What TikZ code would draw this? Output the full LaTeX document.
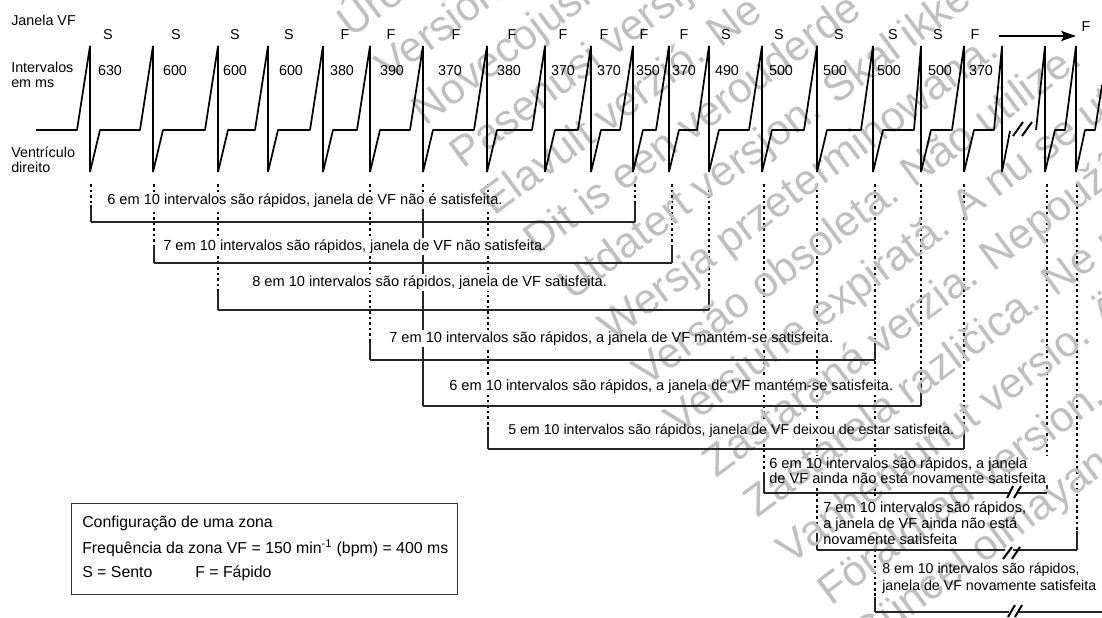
\documentclass[tikz,border=0pt]{standalone}
\usepackage{fontspec}
\setmainfont{Liberation Sans}
\usetikzlibrary{arrows.meta}
\pgfdeclarelayer{lineslayer}
\pgfdeclarelayer{wmlayer}
\pgfsetlayers{lineslayer,wmlayer,main}
\newcommand{\wmline}[3]{\node[wm] at ({0.596*#1+0.803*#2},{0.803*#1-0.596*#2}) {#3};}
\tikzset{
  lbl/.style={anchor=base west,inner sep=0pt,font=\fontsize{10.95}{11.25}\selectfont},
  lblb/.style={lbl,font=\fontsize{10.65}{11.25}\selectfont},
  lbls/.style={lbl,font=\fontsize{10.75}{11.25}\selectfont},
  lblc/.style={lbl,font=\fontsize{11.9}{13}\selectfont},
  ctr/.style={anchor=base,inner sep=0pt,font=\fontsize{10.75}{12}\selectfont},
  ecg/.style={line width=1.3pt,line join=bevel,black},
  dropdot/.style={line width=0.9pt,black,dash pattern=on 1.95pt off 2.2pt},
  dropsol/.style={line width=0.95pt,black!85},
  brk/.style={line width=0.95pt,black!85},
  slash/.style={line width=1.5pt,black},
  wm/.style={anchor=base west,inner sep=0pt,rotate=36.6,text=black!25,font=\fontsize{32}{36}\selectfont},
  mask/.style={white}
}
\begin{document}
\begin{tikzpicture}[x=0.75pt,y=-0.75pt]
\useasboundingbox (0,0) rectangle (1102,617);
% labels
\node[lbls] (lj) at (11,26) {Janela VF};
\node[lbls] (li1) at (11,73) {Intervalos};
\node[lbls] (li2) at (11,88) {em ms};
\node[lbls] (lv1) at (11,157) {Ventrículo};
\node[lbls] (lv2) at (11,172) {direito};
% window letters
\foreach \n/\x/\t in {1/108/S,2/176/S,3/235/S,4/289/S,5/345/F,6/391/F,7/456/F,8/512/F,9/563/F,10/604/F,11/644/F,12/684/F,13/726/S,14/779/S,15/839/S,16/893/S,17/938/S,18/975/F}
  \node[ctr] (w\n) at (\x,40) {\t};
\node[ctr] (w19) at (1086,32) {F};
% intervals
\foreach \n/\x/\t in {1/110/630,2/175/600,3/235/600,4/291/600,5/342/380,6/392/390,7/450/370,8/509/380,9/563/370,10/609/370,11/648/350,12/684/370,13/727/490,14/781/500,15/835/500,16/889/500,17/940/500,18/981/370}
  \node[ctr] (i\n) at (\x,75) {\t};
% ecg
\draw[ecg] (36,130) -- (77,130) -- (90,46);
\foreach \x/\n/\r in {90/153/13,153/218/13,218/268/13,268/323/13,323/370/13,370/423/13,423/487/13,487/545/13,545/591/13,591/633/13,633/669/13,669/709/12,709/762/13,762/817/13,817/873/12,873/921/7,921/964/12,964/1002/8}
  \draw[ecg] (\x,46) -- (\x,172) -- ({\x+10},130) -- ({\n-\r},130) -- (\n,46);
\draw[ecg] (1002,46) -- (1002,172) -- (1010,131);
\draw[slash] (1013,136) -- (1023,122);
\draw[slash] (1022,136) -- (1032,122);
\draw[ecg] (1036,130) -- (1045,46) -- (1045,172) -- (1055,130) -- (1065,130) -- (1076,46) -- (1076,172) -- (1085,130) -- (1095,130) -- (1102,85);
% arrow
\coordinate (as) at (999,36);
\coordinate (ae) at (1076,36);
\draw[line width=1.6pt,-{Stealth[length=11pt,width=7.5pt,inset=2pt]}] (as) -- (ae);
% captions
\node[lbl] (t1) at (107,204) {6 em 10 intervalos são rápidos, janela de VF não é satisfeita.};
\node[lbl] (t2) at (163,250) {7 em 10 intervalos são rápidos, janela de VF não satisfeita.};
\node[lbl] (t3) at (252,286) {8 em 10 intervalos são rápidos, janela de VF satisfeita.};
\node[lbl] (t4) at (389,342) {7 em 10 intervalos são rápidos, a janela de VF mantém-se satisfeita.};
\node[lbl] (t5) at (449,390) {6 em 10 intervalos são rápidos, a janela de VF mantém-se satisfeita.};
\node[lblb] (t6) at (508,434) {5 em 10 intervalos são rápidos, janela de VF deixou de estar satisfeita.};
\node[lbl,align=left] (t7) at (769,483) {6 em 10 intervalos são rápidos, a janela\\de VF ainda não está novamente satisfeita};
\node[lbl,align=left,font=\fontsize{10.95}{12}\selectfont] (t8) at (823,544) {7 em 10 intervalos são rápidos,\\a janela de VF ainda não está\\novamente satisfeita};
\node[lblb,align=left,font=\fontsize{10.65}{12.75}\selectfont] (t9) at (882,590) {8 em 10 intervalos são rápidos,\\janela de VF novamente satisfeita};
% drop lines, below the watermark
\begin{pgfonlayer}{lineslayer}
\fill[white] (0,0) rectangle (1102,617);
\foreach \x/\s/\e in {91/205/222,154/246/263,218/291/310,370/342/360,423/205/406,488/430/449,635/203/222,672/245/263,709/290/310,764/472/493,817/533/550,875/597/612,921/386/406,964/429/449,1047/475/493,1077/531/550}{
  \coordinate (top\x) at (\x,184);
  \coordinate (mid\x) at (\x,\s);
  \coordinate (end\x) at (\x,\e);
  \draw[dropdot] (top\x) -- (mid\x);
  \draw[dropsol] (mid\x) -- (end\x);
}
\coordinate (mid875b) at (875,338);
\coordinate (end875a) at (875,360);
\draw[dropsol] (mid875b) -- (end875a);
\foreach \t in {t1,t2,t3,t4,t5,t6,t7,t8,t9}
  \fill[mask] ([xshift=-2pt,yshift=-1pt]\t.south west) rectangle ([xshift=2pt,yshift=1pt]\t.north east);
\end{pgfonlayer}
% brackets
\draw[brk] (end91) -- (end635);
\draw[brk] (end154) -- (end672);
\draw[brk] (end218) -- (end709);
\draw[brk] (end370) -- (end875a);
\draw[brk] (end423) -- (end921);
\draw[brk] (end488) -- (end964);
\coordinate (g7a) at (1009,493); \coordinate (g7b) at (1017,493);
\draw[brk] (end764) -- (g7a); \draw[brk] (g7b) -- (end1047);
\draw[slash] (1007,498) -- (1013,486);
\draw[slash] (1014,498) -- (1021,486);
\coordinate (g8a) at (1005,550); \coordinate (g8b) at (1013,550);
\draw[brk] (end817) -- (g8a); \draw[brk] (g8b) -- (end1077);
\draw[slash] (1003,559) -- (1012,547);
\draw[slash] (1012,559) -- (1020,547);
\coordinate (g9a) at (1009,612); \coordinate (g9b) at (1017,612);
\coordinate (g9c) at (1102,612);
\draw[brk] (end875) -- (g9a); \draw[brk] (g9b) -- (g9c);
\draw[slash] (1008,617) -- (1015,605);
\draw[slash] (1015,617) -- (1022,605);
% config box
\node[draw=black!80,line width=0.9pt,minimum width=289.5pt,minimum height=68.25pt,anchor=north west,inner sep=0pt] (box) at (71,503) {};
\node[lblc] (c1) at (82,527) {Configuração de uma zona};
\node[lblc] (c2) at (82,553) {Frequência da zona VF = 150 min\textsuperscript{-1} (bpm) = 400 ms};
\node[lblc] (c3) at (82,577) {S = Sento};
\node[lblc] (c4) at (195,577) {F = Fápido};
% watermark
\begin{pgfonlayer}{wmlayer}
\begin{scope}
\clip (0,0) rectangle (1102,617);
\wmline{241}{259}{Úrelt}
\wmline{298}{263}{Version}
\wmline{355}{266}{Novecojusi versija.}
\wmline{412}{271}{Pasenusi versija.}
\wmline{469}{268}{Elavult verzió. Ne}
\wmline{526}{279}{Dit is een verouderde}
\wmline{583}{280}{Utdatert versjon. Skal ikke}
\wmline{640}{288}{Wersja przeterminowana.}
\wmline{697}{288}{Versão obsoleta. Não utilize.}
\wmline{754}{285}{Versiune expirată. A nu se utiliza.}
\wmline{811}{290}{Zastaraná verzia. Nepoužívať.}
\wmline{868}{299}{Zastarela različica. Ne uporabite.}
\wmline{925}{298}{Vanhentunut versio. Älä}
\wmline{982}{306}{Föråldrad version.}
\wmline{1039}{306}{Güncel olmayan}
\end{scope}
\end{pgfonlayer}
\end{tikzpicture}
\end{document}
